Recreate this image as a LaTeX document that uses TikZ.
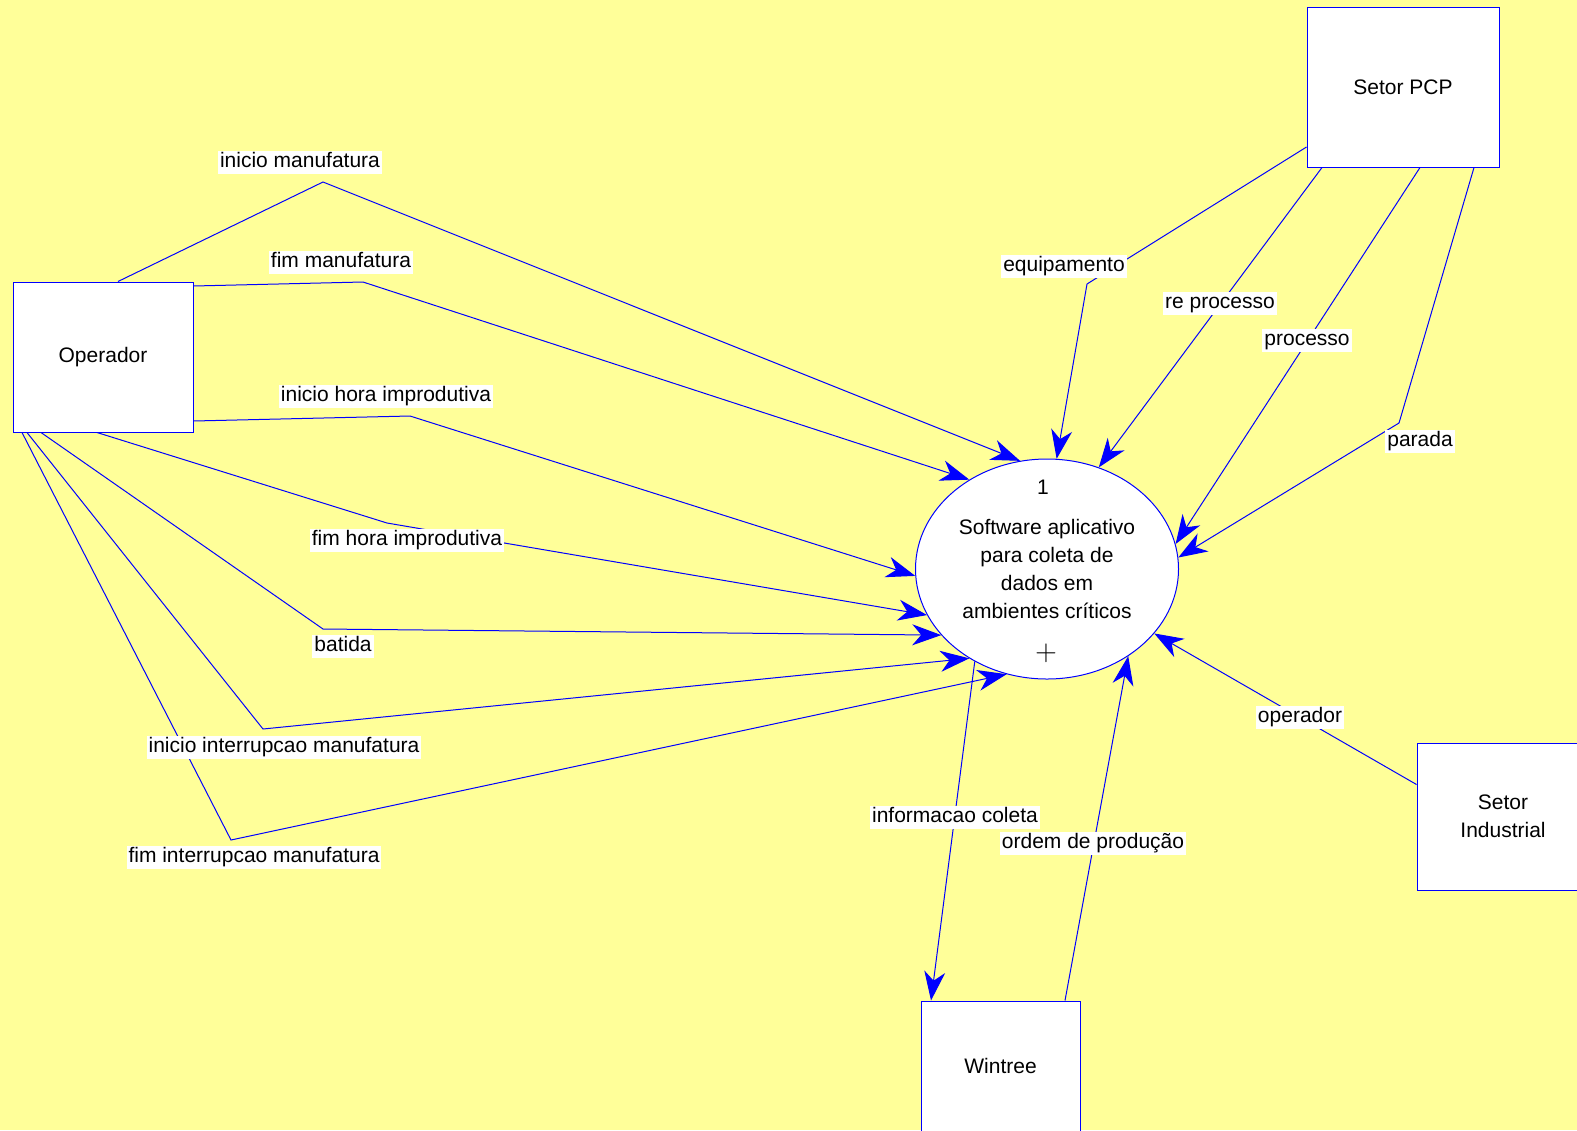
\documentclass[tikz,border=0pt]{standalone}
\usepackage{fontspec}
\setmainfont{Liberation Sans}
\usetikzlibrary{arrows.meta, shapes.geometric}
\definecolor{dfdyellow}{RGB}{255,255,153}
\tikzset{%
  dfdfont/.style={font=\fontsize{10.5}{14}\selectfont},
  entity/.style={draw=blue, fill=white, rectangle, inner sep=0pt, align=center, line width=0.5pt, dfdfont},
  process/.style={draw=blue, fill=white, ellipse, inner sep=0pt, minimum width=131.5pt, minimum height=110pt, align=center, line width=0.5pt, dfdfont},
  wire/.style={draw=blue, line width=0.5pt},
  flow/.style={wire, -{Stealth[length=14.5pt, width=10.5pt, inset=4.5pt]}},
  flowlabel/.style={fill=white, inner xsep=1pt, inner ysep=0.5pt, text height=8pt, text depth=2.5pt, dfdfont}
}

\begin{document}
\begin{tikzpicture}[x=0.5pt, y=-0.5pt]
  \fill[dfdyellow] (0,0) rectangle (1577,1130);
  \useasboundingbox (0,0) rectangle (1577,1130);

  \node[process] (proc) at (1047,569) {Software aplicativo\\para coleta de\\dados em\\ambientes críticos};
  \node[dfdfont] (procnum) at (1043,487) {1};
  \node[font=\fontsize{15}{15}\selectfont] (procplus) at (1046,653) {$+$};

  \node[entity, minimum width=90pt, minimum height=75pt] (op) at (103,357) {Operador};
  \node[entity, minimum width=96pt, minimum height=80pt] (pcp) at (1403,87) {Setor PCP};
  \node[entity, minimum width=86pt, minimum height=73.5pt] (ind) at (1503,816.5) {Setor\\Industrial};
  \node[entity, minimum width=79.5pt, minimum height=65pt] (win) at (1000.5,1066) {Wintree};

  \coordinate (b1) at (323,182);
  \coordinate (b2) at (363,282);
  \coordinate (b3) at (410,416);
  \coordinate (b4) at (387,523);
  \coordinate (b5) at (323,629);
  \coordinate (b6) at (263,729);
  \coordinate (b7) at (231,840);
  \coordinate (b8) at (1087,284);
  \coordinate (b11) at (1399,423);

  \draw[flow] ([xshift=7.5pt]op.north) -- (b1) -- (proc.104);
  \draw[flow] ([yshift=35.5pt]op.east) -- (b2) -- (proc.131.6);
  \draw[flow] ([yshift=-32pt]op.east) -- (b3) -- (proc.183.5);
  \draw[flow] ([xshift=-3pt]op.south) -- (b4) -- (proc.201);
  \draw[flow] ([xshift=-31pt]op.south) -- (b5) -- (proc.212.4);
  \draw[flow] ([xshift=-38pt]op.south) -- (b6) -- (proc.229.1);
  \draw[flow] ([xshift=-40.5pt]op.south) -- (b7) -- (proc.249);
  \draw[flow] ([yshift=-30pt]pcp.west) -- (b8) -- (proc.85.9);
  \draw[flow] ([xshift=-40.5pt]pcp.south) -- (proc.63);
  \draw[flow] ([xshift=8.5pt]pcp.south) -- (proc.11.4);
  \draw[flow] ([xshift=35.5pt]pcp.south) -- (b11) -- (proc.5.2);
  \draw[flow] ([yshift=16pt]ind.west) -- (proc.329.1);
  \draw[flow] (proc.232.6) -- ([xshift=-34.75pt]win.north);
  \draw[flow] ([xshift=32.25pt]win.north) -- (proc.313);

  \node[flowlabel] (lim) at (300,162) {inicio manufatura};
  \node[flowlabel] (lfm) at (341,262) {fim manufatura};
  \node[flowlabel] (lihi) at (386,396) {inicio hora improdutiva};
  \node[flowlabel] (lfhi) at (407,540) {fim hora improdutiva};
  \node[flowlabel] (lbat) at (343,646) {batida};
  \node[flowlabel] (liim) at (284,747) {inicio interrupcao manufatura};
  \node[flowlabel] (lfim) at (254,857) {fim interrupcao manufatura};
  \node[flowlabel] (lequ) at (1064,266) {equipamento};
  \node[flowlabel] (lrep) at (1220,303) {re processo};
  \node[flowlabel] (lpro) at (1307,340) {processo};
  \node[flowlabel] (lpar) at (1420,441) {parada};
  \node[flowlabel] (lope) at (1300,717) {operador};
  \node[flowlabel] (linf) at (955,817) {informacao coleta};
  \node[flowlabel] (lord) at (1093,843) {ordem de produção};
\end{tikzpicture}
\end{document}
